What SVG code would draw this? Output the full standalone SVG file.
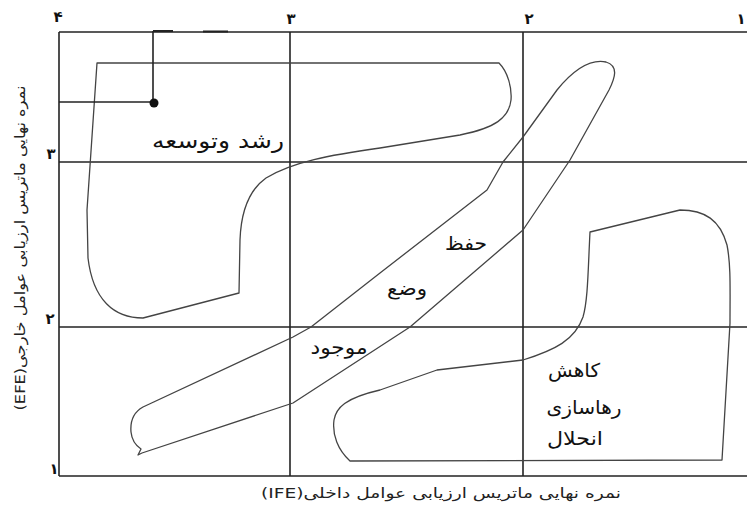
<svg xmlns="http://www.w3.org/2000/svg" width="747" height="507" viewBox="0 0 747 507">
<style>
.grid{stroke:#222;stroke-width:1.6;fill:none}
.shape{stroke:#444;stroke-width:1.3;fill:none;stroke-linejoin:round}
.lbl{font-family:"DejaVu Sans",sans-serif;fill:#111;text-anchor:middle;direction:rtl}
.num{font-family:"DejaVu Sans",sans-serif;font-weight:bold;font-size:15px;fill:#111;text-anchor:middle}
.ax{font-family:"DejaVu Sans",sans-serif;font-size:14px;fill:#222;text-anchor:middle;direction:rtl}
</style>
<rect width="747" height="507" fill="#fff"/>
<g id="grid">
<line class="grid" x1="59" y1="32" x2="747" y2="32"/>
<line class="grid" x1="59" y1="162" x2="747" y2="162"/>
<line class="grid" x1="59" y1="327" x2="747" y2="327"/>
<line class="grid" x1="59" y1="476" x2="747" y2="476"/>
<line class="grid" x1="59" y1="32" x2="59" y2="476"/>
<line class="grid" x1="290" y1="32" x2="290" y2="476"/>
<line class="grid" x1="523" y1="32" x2="523" y2="476"/>
</g>
<g id="ticks">
<text class="num" x="58" y="22">۴</text>
<text class="num" x="291" y="24">۳</text>
<text class="num" x="529" y="24">۲</text>
<text class="num" x="741" y="24">۱</text>
<text class="num" x="51" y="159">۳</text>
<text class="num" x="50" y="324">۲</text>
<text class="num" x="54" y="474">۱</text>
</g>
<g id="growth">
<path class="shape" d="M97,63 L499,63 C508,72 512,88 511,100 C509,118 495,128 460,135 L380,148 C330,155 292,162 266,178 C249,190 241,212 240,240 L239,293 L143,318 C114,318 93,300 88,258 L87,210 Z"/>
<text class="lbl" x="218" y="148" font-size="21" textLength="132" lengthAdjust="spacingAndGlyphs">رشد وتوسعه</text>
</g>
<g id="hold">
<path class="shape" d="M142,453 L293,403 L410,327 L523,230 L570,160 L609,90 C615,78 619,66 606,62 C591,59 575,68 557,90 L523,137 L503,162 L487,190 L380,273 L311,327 L293,337 L143,407 C134,412 130,420 131,432 C132,442 138,447 141,449 L138,455 Z"/>
<text class="lbl" x="466" y="250" font-size="19" textLength="42" lengthAdjust="spacingAndGlyphs">حفظ</text>
<text class="lbl" x="407" y="295" font-size="19" textLength="40" lengthAdjust="spacingAndGlyphs">وضع</text>
<text class="lbl" x="339" y="354" font-size="19" textLength="57" lengthAdjust="spacingAndGlyphs">موجود</text>
</g>
<g id="retrench">
<path class="shape" d="M590,232 L680,210 C705,210 720,220 727,245 C731,265 730,290 730,323 L722,460 L350,461 C338,450 332,435 334,420 C336,408 345,398 380,390 L437,370 L523,360 C555,350 575,340 583,317 C588,300 588,270 590,232 Z"/>
<text class="lbl" x="574" y="377" font-size="19" textLength="52" lengthAdjust="spacingAndGlyphs">کاهش</text>
<text class="lbl" x="584" y="414" font-size="19" textLength="75" lengthAdjust="spacingAndGlyphs">رهاسازی</text>
<text class="lbl" x="575" y="445" font-size="19" textLength="56" lengthAdjust="spacingAndGlyphs">انحلال</text>
</g>
<g id="connectors">
<line class="grid" x1="59" y1="102" x2="153" y2="102"/>
<line class="grid" x1="153" y1="102" x2="153" y2="31"/>
<line x1="153" y1="31" x2="173" y2="31" stroke="#222" stroke-width="2"/>
<line x1="203" y1="31.5" x2="228" y2="31.5" stroke="#222" stroke-width="2"/>
<circle cx="154" cy="103" r="4.5" fill="#111"/>
</g>
<g id="axes">
<text class="ax" x="441" y="498" textLength="360" lengthAdjust="spacingAndGlyphs">نمره نهایی ماتریس ارزیابی عوامل داخلی(IFE)</text>
<text class="ax" transform="translate(25,248) rotate(-90)" x="0" y="0" textLength="325" lengthAdjust="spacingAndGlyphs">نمره نهایی ماتریس ارزیابی عوامل خارجی(EFE)</text>
</g>
</svg>
